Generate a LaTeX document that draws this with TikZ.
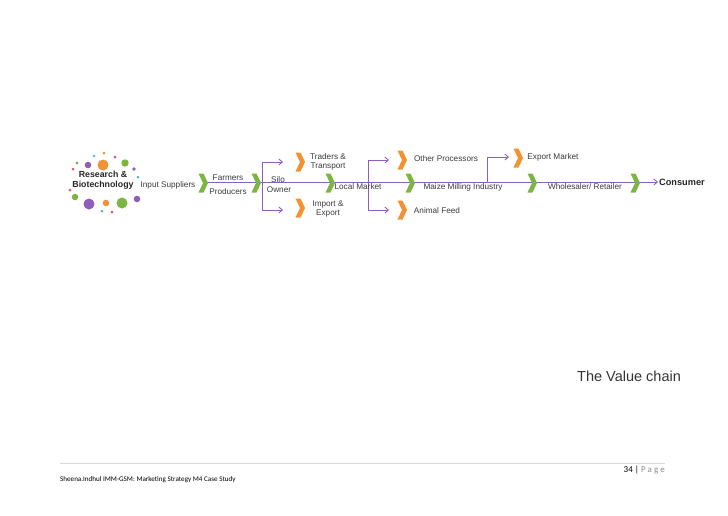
\documentclass[tikz,border=0pt]{standalone}
\usepackage{fontspec}
\setmainfont{Liberation Sans}
\newfontfamily\footfont{Carlito}
\usetikzlibrary{arrows.meta}
\definecolor{vcpurple}{HTML}{8E5EB8}
\definecolor{vcorange}{HTML}{F39233}
\definecolor{vcgreen}{HTML}{7DB543}
\definecolor{vcblue}{HTML}{4DB6D8}
\definecolor{vcred}{HTML}{E2575F}
\definecolor{vctext}{HTML}{3A3A3A}

\begin{document}
\begin{tikzpicture}[x=1pt, y=-1pt, >={Straight Barb[length=3.5pt,width=6pt]},
  flow/.style={vcpurple, line width=0.9pt},
  lbl/.style={text=vctext, font=\fontsize{8.2}{9}\selectfont, inner sep=1pt, align=center},
  chev/.pic={\path[pic actions] (-4.5,-9.5) -- (0.5,-9.5) -- (5,0) -- (0.5,9.5) -- (-4.5,9.5) -- (0,0) -- cycle;}]
  \useasboundingbox (0,0) rectangle (728,515);

  % dots round the research label
  \foreach \x/\y/\r/\c in {94/156/1.4/vcblue, 104/153/1.5/vcorange, 115/157/1.5/vcred,
      77/163/1.7/vcgreen, 88/165/3.3/vcpurple, 103/165/5.5/vcorange, 125/163/3.7/vcgreen,
      73/169/1.5/vcred, 134/169/1.8/vcpurple, 138/177/1.5/vcblue, 70/190/1.5/vcred,
      75/197/3.3/vcgreen, 89/204/5.5/vcpurple, 106/203/3.3/vcorange, 122/203/5.5/vcgreen,
      137/199/3.3/vcpurple, 102/211/1.5/vcblue, 112/212/1.5/vcred}
    \fill[\c] (\x,\y) circle (\r);
  \node[text=black!85, font=\bfseries\fontsize{8.8}{10}\selectfont, align=center, inner sep=0pt] (research) at (103,180) {Research \&\\Biotechnology};

  % main line
  \coordinate (mainstart) at (207,182);
  \node[text=black!85, font=\bfseries\fontsize{9.2}{10}\selectfont, anchor=west, inner sep=1pt] (consumer) at (658,182) {Consumer};
  \draw[flow,->] (mainstart) -- (consumer.west);

  % branch after the silo
  \coordinate (siloup) at (262,162);
  \coordinate (silodn) at (262,210);
  \coordinate (siloupT) at (283,162);
  \coordinate (silodnT) at (283,210);
  \draw[flow,<->] (siloupT) -- (siloup) -- (silodn) -- (silodnT);

  % branch after the local market
  \coordinate (mktup) at (368,160);
  \coordinate (mktdn) at (368,210);
  \coordinate (mktupT) at (389,160);
  \coordinate (mktdnT) at (389,210);
  \draw[flow,<->] (mktupT) -- (mktup) -- (mktdn) -- (mktdnT);

  % branch to export
  \coordinate (expbase) at (487,182);
  \coordinate (expT) at (509,157);
  \draw[flow,->] (expbase) |- (expT);

  % chevrons
  \foreach \x in {203,256,330,410,532,635}
    \pic[fill=vcgreen] at (\x,183) {chev};
  \foreach \x/\y in {300/162, 300/208, 402/160, 402/210, 518/158}
    \pic[fill=vcorange] at (\x,\y) {chev};

  % labels
  \node[lbl] (input) at (168,185) {Input Suppliers};
  \node[lbl] (farmers) at (228,178) {Farmers};
  \node[lbl] (producers) at (228,192) {Producers};
  \node[lbl] (silo) at (278,180) {Silo};
  \node[lbl] (owner) at (279,190) {Owner};
  \node[lbl] (traders) at (328,162) {Traders \&\\Transport};
  \node[lbl] (import) at (328,209) {Import \&\\Export};
  \node[lbl] (local) at (358,187) {Local Market};
  \node[lbl] (other) at (446,159) {Other Processors};
  \node[lbl] (maize) at (463,187) {Maize Milling Industry};
  \node[lbl] (feed) at (437,211) {Animal Feed};
  \node[lbl] (export) at (553,157) {Export Market};
  \node[lbl] (retail) at (585,187) {Wholesaler/ Retailer};

  % caption
  \node[text=black!80, font=\fontsize{14.5}{16}\selectfont, anchor=west, inner sep=0pt] (caption) at (577,376) {The Value chain};

  % footer
  \coordinate (ruleL) at (60,463);
  \coordinate (ruleR) at (665,463);
  \draw[black!15, line width=0.5pt] (ruleL) -- (ruleR);
  \node[font=\footfont\fontsize{9}{10}\selectfont, anchor=east, inner sep=0pt] (page) at (665,470) {34 | \textcolor{black!45}{P a g e}};
  \node[font=\footfont\fontsize{7.1}{8}\selectfont, anchor=west, inner sep=0pt] (foot) at (60,480) {Sheena.Indhul IMM-GSM: Marketing Strategy M4 Case Study};
\end{tikzpicture}
\end{document}
